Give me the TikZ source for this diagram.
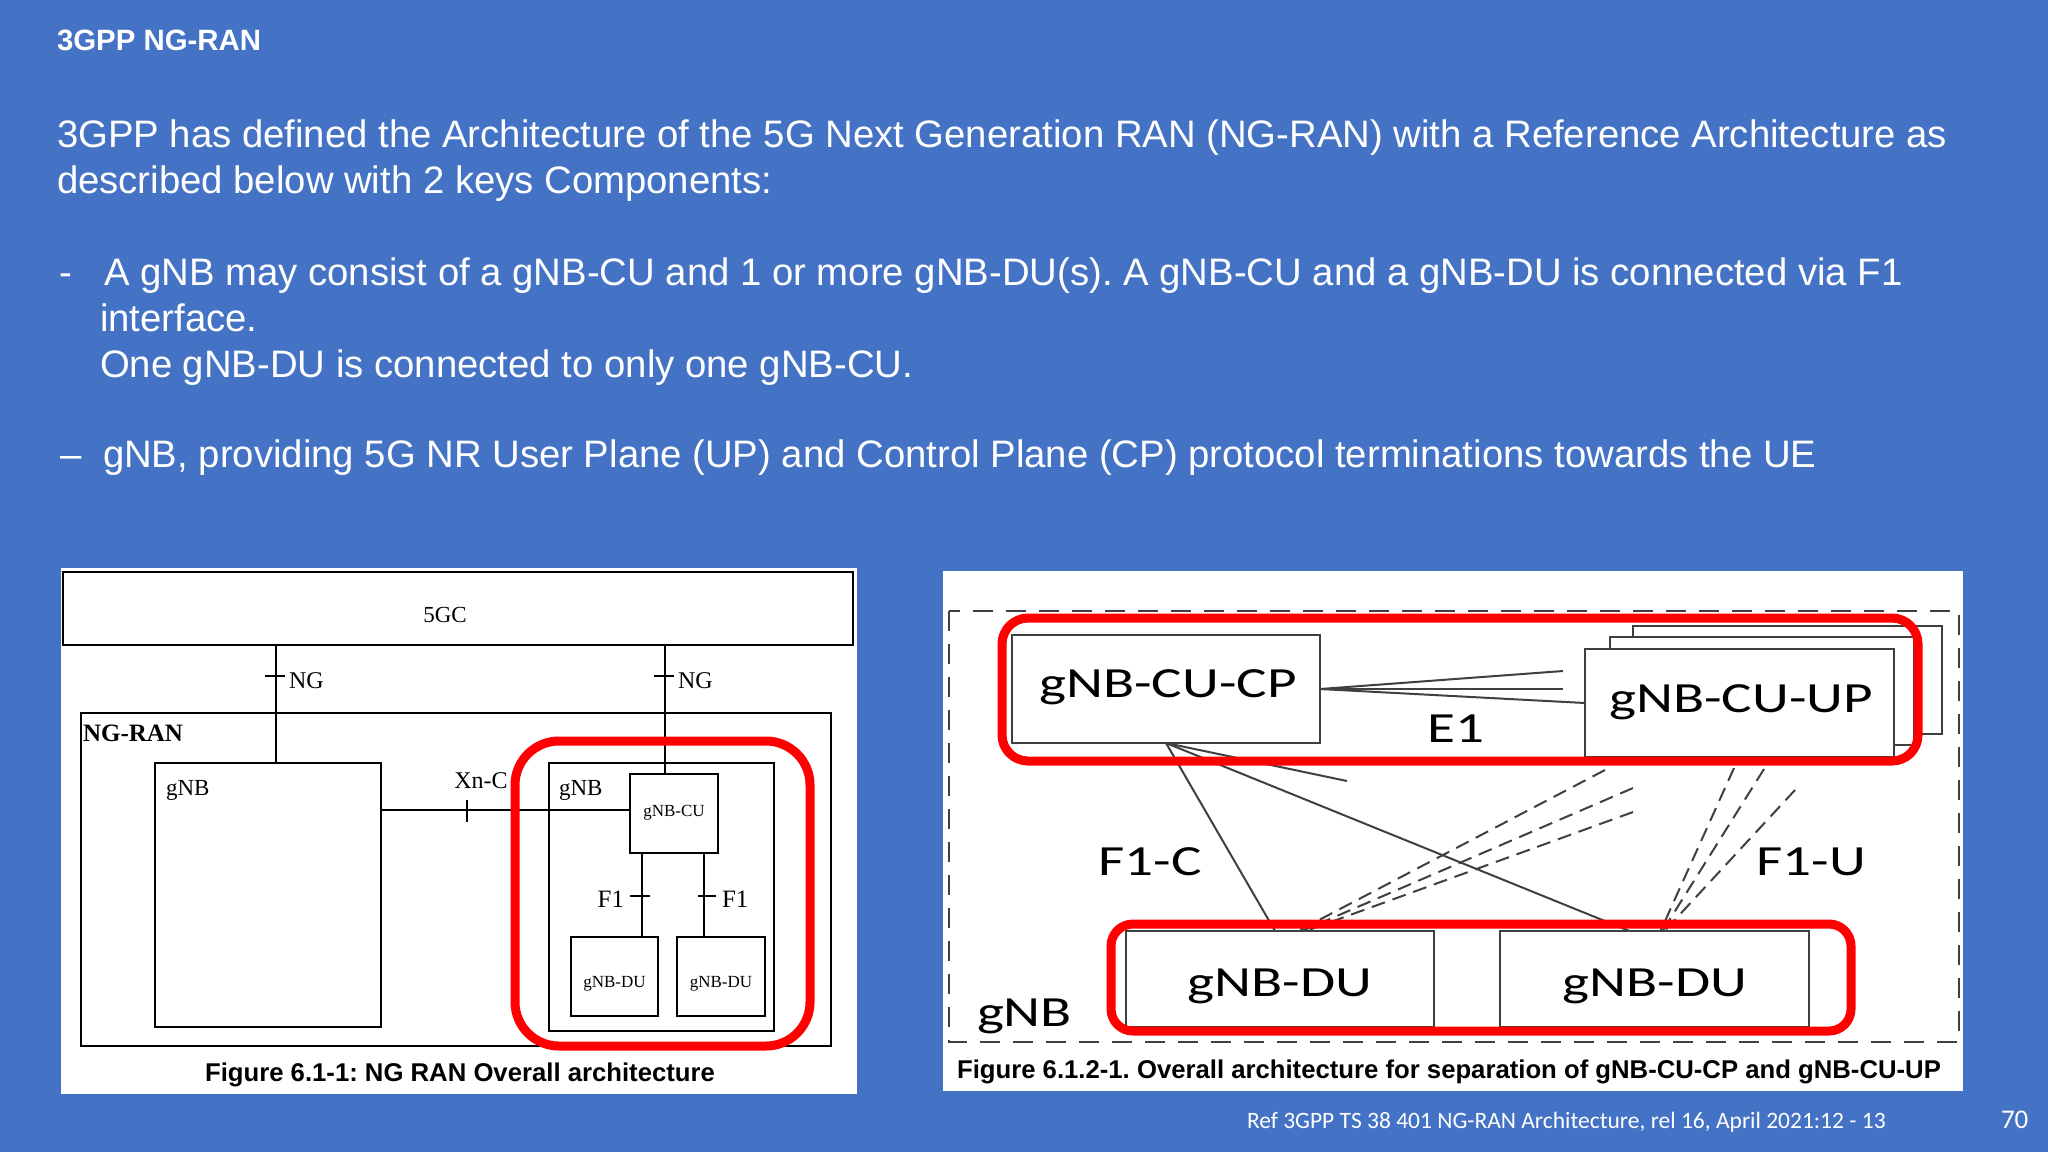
\documentclass[tikz,border=0pt]{standalone}
\usepackage{fontspec}
\setmainfont{Liberation Sans}
\newfontfamily\serifF{Liberation Serif}
\newfontfamily\calF{Carlito}
\usetikzlibrary{fit,calc}
\definecolor{bgblue}{HTML}{4472C4}
\definecolor{figgray}{HTML}{404040}
\definecolor{hlred}{HTML}{FF0000}
\newcommand{\myfs}[1]{\fontsize{#1pt}{#1pt}\selectfont}
\newcommand{\wide}[1]{\scalebox{1.33}[1]{#1}}
\frenchspacing
\begin{document}
\begin{tikzpicture}[x=0.5pt,y=-0.5pt,
  txt/.style={inner sep=0, outer sep=0, anchor=base west, text=white},
  lbox/.style={draw=black, line width=0.75pt, inner sep=0, outer sep=0},
  rbox/.style={draw=figgray, line width=1pt, fill=white, inner sep=0, outer sep=0},
  lline/.style={draw=black, line width=0.75pt},
  rline/.style={draw=figgray, line width=1pt},
  fdash/.style={draw=figgray, line width=1pt, dash pattern=on 7pt off 4pt},
  hl/.style={draw=hlred, line width=4.5pt},
  stxt/.style={inner sep=0, outer sep=0, anchor=base, text=black, font=\serifF\myfs{11.5}},
  ctxt/.style={inner sep=0, outer sep=0, anchor=base, text=black, font=\calF\myfs{21.5}},
  captxt/.style={inner sep=0, outer sep=0, anchor=base, text=black, font=\bfseries\myfs{12.85}}
]
\useasboundingbox (0,0) rectangle (2048,1152);
\fill[bgblue] (0,0) rectangle (2048,1152);

% ---------- slide text ----------
\node[txt, font=\bfseries\myfs{14.7}] (title) at (57,50) {3GPP NG-RAN};
\node[txt, font=\myfs{19.15}] (p1) at (57,147) {3GPP has defined the Architecture of the 5G Next Generation RAN (NG-RAN) with a Reference Architecture as};
\node[txt, font=\myfs{19.15}] (p2) at (57,193) {described below with 2 keys Components:};
\node[txt, font=\myfs{19.15}] (b1d) at (59,285) {-};
\node[txt, font=\myfs{19.15}] (b1a) at (104,285) {A gNB may consist of a gNB-CU and 1 or more gNB-DU(s). A gNB-CU and a gNB-DU is connected via F1};
\node[txt, font=\myfs{19.15}] (b1b) at (100,331) {interface.};
\node[txt, font=\myfs{19.15}] (b1c) at (100,377) {One gNB-DU is connected to only one gNB-CU.};
\node[txt, font=\myfs{19.15}] (b2d) at (60,467) {–};
\node[txt, font=\myfs{19.15}] (b2a) at (103,467) {gNB, providing 5G NR User Plane (UP) and Control Plane (CP) protocol terminations towards the UE};

% ---------- left figure ----------
\fill[white] (61,568) rectangle (857,1094);
\node[lbox, fit={(63,572)(853,645)}] (fgc) {};
\node[stxt] (fgct) at (445,622) {5GC};
\node[lbox, fit={(81,713)(831,1046)}] (ngran) {};
\node[stxt, anchor=base west, font=\serifF\bfseries\myfs{12.5}] (ngrant) at (83,741) {NG-RAN};
\node[lbox, fit={(155,763)(381,1027)}] (gnbl) {};
\node[stxt, anchor=base west] (gnblt) at (166,795) {gNB};
\node[lbox, fit={(549,763)(774,1031)}] (gnbr) {};
\node[stxt, anchor=base west] (gnbrt) at (559,795) {gNB};
\node[lbox, fit={(630,774)(718,853)}] (cu) {};
\node[stxt, font=\serifF\myfs{8.5}] (cut) at (674,816) {gNB-CU};
\node[lbox, fit={(571,937)(658,1016)}] (du1) {};
\node[stxt, font=\serifF\myfs{8.5}] (du1t) at (614.5,987) {gNB-DU};
\node[lbox, fit={(677,937)(765,1016)}] (du2) {};
\node[stxt, font=\serifF\myfs{8.5}] (du2t) at (721,987) {gNB-DU};

\coordinate (ngl) at (276,0);
\coordinate (ngr) at (665,0);
\coordinate (f1l) at (642,0);
\coordinate (f1r) at (704,0);
\draw[lline] (fgc.south -| ngl) -- (gnbl.north -| ngl);
\draw[lline] (fgc.south -| ngr) -- (cu.north -| ngr);
\draw[lline] (gnbl.east |- 0,810) -- (cu.west |- 0,810);
\draw[lline] (cu.south -| f1l) -- (du1.north -| f1l);
\draw[lline] (cu.south -| f1r) -- (du2.north -| f1r);
% interface ticks
\draw[lline] (265,676) -- (285,676);
\draw[lline] (654,676) -- (674,676);
\draw[lline] (467,800) -- (467,822);
\draw[lline] (630,896) -- (650,896);
\draw[lline] (698,896) -- (716,896);
\node[stxt, anchor=base west, font=\serifF\myfs{12}] (nglt) at (289,688) {NG};
\node[stxt, anchor=base west, font=\serifF\myfs{12}] (ngrt) at (678,688) {NG};
\node[stxt, font=\serifF\myfs{12}] (xnc) at (481,788) {Xn-C};
\node[stxt, anchor=base east, font=\serifF\myfs{12.5}] (f1lt) at (624,907) {F1};
\node[stxt, anchor=base west, font=\serifF\myfs{12.5}] (f1rt) at (722,907) {F1};
\draw[hl, rounded corners=22pt] (515,741) rectangle (810,1046);
\node[captxt] (cap1) at (460,1081) {Figure 6.1-1: NG RAN Overall architecture};

% ---------- right figure ----------
\fill[white] (943,571) rectangle (1963,1091);
\draw[figgray, line width=1pt, dash pattern=on 10pt off 6.5pt] (949,611) rectangle (1959,1042);
\node[rbox, fit={(1012,635)(1320,743)}] (cucp) {};
\node[ctxt] (cucpt) at (1168,697) {\wide{gNB-CU-CP}};
\node[rbox, fit={(1633,626)(1942,734)}] (cuup3) {};
\node[rbox, fit={(1610,637)(1914,745)}] (cuup2) {};
\node[rbox, fit={(1585,649)(1894,757)}] (cuup) {};
\node[ctxt] (cuupt) at (1741,712) {\wide{gNB-CU-UP}};
\node[ctxt] (e1t) at (1456,742) {\wide{E1}};
\node[rbox, fit={(1126,931)(1434,1027)}] (rdu1) {};
\node[ctxt] (rdu1t) at (1280,996) {\wide{gNB-DU}};
\node[rbox, fit={(1500,931)(1809,1027)}] (rdu2) {};
\node[ctxt] (rdu2t) at (1655,996) {\wide{gNB-DU}};
\node[ctxt, anchor=base west] (gnbt) at (977,1026) {\wide{gNB}};
\node[ctxt] (f1ct) at (1150,875) {\wide{F1-C}};
\node[ctxt] (f1ut) at (1811,875) {\wide{F1-U}};

% E1 lines
\coordinate (e1a) at (1563,671);
\coordinate (e1b) at (1563,689);
\draw[rline] (cucp.east) -- (e1a);
\draw[rline] (cucp.east) -- (e1b);
\draw[rline] (cucp.east) -- (cuup.west |- 0,703);
% F1-C lines
\coordinate (f1cs) at (1347,781);
\draw[rline] (cucp.south) -- ([xshift=-2.5pt]rdu1.north);
\draw[rline] (cucp.south) -- ([xshift=-12.5pt]rdu2.north);
\draw[rline] (cucp.south) -- (f1cs);
% F1 dashed towards DU1
\coordinate (d1a) at (1605,770);
\coordinate (d1b) at (1633,788);
\coordinate (d1c) at (1633,812);
\draw[fdash] (d1a) -- ([xshift=9pt]rdu1.north);
\draw[fdash] (d1b) -- ([xshift=11pt]rdu1.north);
\draw[fdash] (d1c) -- ([xshift=13pt]rdu1.north);
% F1-U dashed towards DU2
\coordinate (d2a) at (1734,768);
\coordinate (d2b) at (1764,769);
\coordinate (d2c) at (1795,790);
\draw[fdash] (d2a) -- ([xshift=3pt]rdu2.north);
\draw[fdash] (d2b) -- ([xshift=4pt]rdu2.north);
\draw[fdash] (d2c) -- ([xshift=5pt]rdu2.north);

\draw[hl, rounded corners=13pt] (1002,618) rectangle (1918,761);
\draw[hl, rounded corners=11pt] (1111,924) rectangle (1851,1031);
\node[captxt] (cap2) at (1449,1078) {Figure 6.1.2-1. Overall architecture for separation of gNB-CU-CP and gNB-CU-UP};

% ---------- footer ----------
\node[txt, font=\calF\myfs{11.75}] (ref) at (1247,1128) {Ref 3GPP TS 38 401 NG-RAN Architecture, rel 16, April 2021:12 - 13};
\node[txt, font=\calF\myfs{13.5}] (pg) at (2001,1128) {70};
\end{tikzpicture}
\end{document}
